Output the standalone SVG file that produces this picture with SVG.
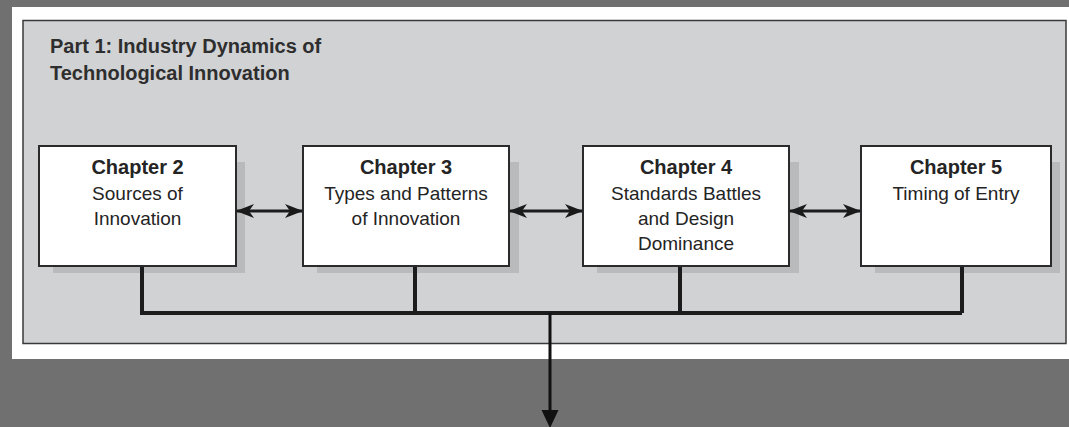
<svg xmlns="http://www.w3.org/2000/svg" width="1069" height="427" viewBox="0 0 1069 427">
<defs>
<marker id="barb" viewBox="0 0 18 14" refX="17" refY="7" markerWidth="18" markerHeight="14" markerUnits="userSpaceOnUse" orient="auto-start-reverse">
<path d="M0,0 L18,7 L0,14 L5,7 Z" fill="#1a1a1a"/>
</marker>
</defs>
<style>
.shadow{fill:#b9babc}
.box{fill:#ffffff;stroke:#2b2b2b;stroke-width:2}
.t{font-family:"Liberation Sans",Arial,sans-serif;font-size:19px;fill:#242424;text-anchor:middle}
.b{font-weight:bold;font-size:20px}
.title{font-family:"Liberation Sans",Arial,sans-serif;font-size:20px;font-weight:bold;fill:#2e2e2e}
.conn{fill:none;stroke:#1c1c1c;stroke-width:4}
.dbl{fill:none;stroke:#1c1c1c;stroke-width:3}
</style>
<rect x="0" y="0" width="1069" height="427" fill="#707070"/>
<rect x="12" y="7" width="1057" height="352" fill="#ffffff"/>
<rect id="panel" x="23" y="20.5" width="1043" height="323" fill="#d1d2d4" stroke="#3a3a3a" stroke-width="1.5"/>
<g id="title">
<text class="title" x="50" y="53">Part 1: Industry Dynamics of</text>
<text class="title" x="50" y="80">Technological Innovation</text>
</g>
<g id="ch2">
<rect class="shadow" x="53" y="162" width="192" height="111"/>
<rect class="box" x="39" y="146" width="197" height="120"/>
<text class="t b" x="137.5" y="174">Chapter 2</text>
<text class="t" x="137.5" y="200">Sources of</text>
<text class="t" x="137.5" y="225">Innovation</text>
</g>
<g id="ch3">
<rect class="shadow" x="317" y="162" width="202" height="111"/>
<rect class="box" x="303" y="146" width="206" height="120"/>
<text class="t b" x="406" y="174">Chapter 3</text>
<text class="t" x="406" y="200">Types and Patterns</text>
<text class="t" x="406" y="225">of Innovation</text>
</g>
<g id="ch4">
<rect class="shadow" x="597" y="162" width="202" height="111"/>
<rect class="box" x="583" y="146" width="206" height="120"/>
<text class="t b" x="686" y="174">Chapter 4</text>
<text class="t" x="686" y="200">Standards Battles</text>
<text class="t" x="686" y="225">and Design</text>
<text class="t" x="686" y="250">Dominance</text>
</g>
<g id="ch5">
<rect class="shadow" x="875" y="162" width="185" height="111"/>
<rect class="box" x="861" y="146" width="190" height="120"/>
<text class="t b" x="956" y="174">Chapter 5</text>
<text class="t" x="956" y="200">Timing of Entry</text>
</g>
<g id="connectors">
<path class="conn" d="M142,267 V313 H962 M415,267 V313 M680,267 V313 M962,267 V313"/>
<path fill="none" stroke="#111" stroke-width="3" d="M550,313 V412"/>
<path d="M541.5,410 L558.5,410 L550,428 Z" fill="#111"/>
<line class="dbl" x1="237" y1="211" x2="302" y2="211" marker-start="url(#barb)" marker-end="url(#barb)"/>
<line class="dbl" x1="510" y1="211" x2="582" y2="211" marker-start="url(#barb)" marker-end="url(#barb)"/>
<line class="dbl" x1="790" y1="211" x2="860" y2="211" marker-start="url(#barb)" marker-end="url(#barb)"/>
</g>
</svg>
